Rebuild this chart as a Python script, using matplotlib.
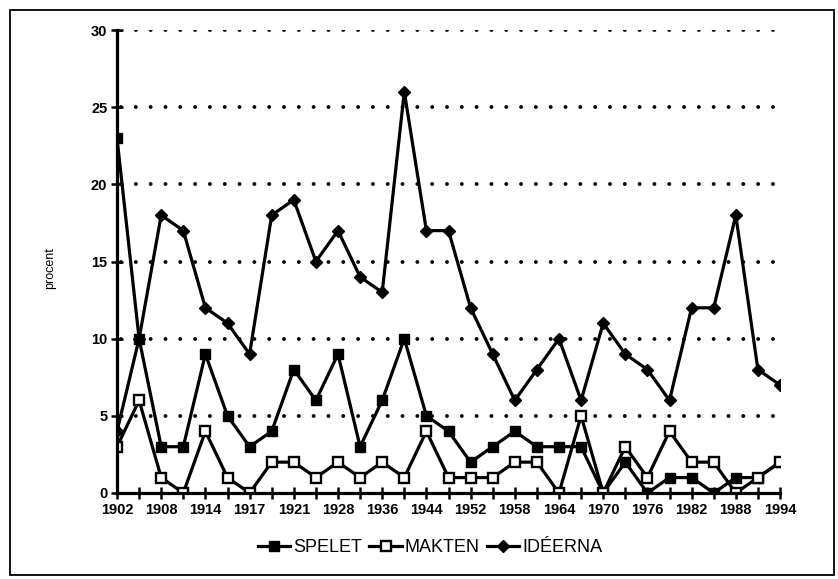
import numpy as np
import matplotlib.pyplot as plt
from matplotlib.patches import Rectangle

# år (varannan etikett visas i originalet)
years = ['1902', '1905', '1908', '1911', '1914', '1916', '1917', '1919', '1921', '1924',
         '1928', '1932', '1936', '1940', '1944', '1948', '1952', '1955', '1958', '1961',
         '1964', '1967', '1970', '1973', '1976', '1979', '1982', '1985', '1988', '1991',
         '1994']

spelet = [23, 10, 3, 3, 9, 5, 3, 4, 8, 6, 9, 3, 6, 10, 5, 4, 2, 3, 4, 3,
          3, 3, 0, 2, 0, 1, 1, 0, 1, 1, 2]
makten = [3, 6, 1, 0, 4, 1, 0, 2, 2, 1, 2, 1, 2, 1, 4, 1, 1, 1, 2, 2,
          0, 5, 0, 3, 1, 4, 2, 2, 0, 1, 2]
ideerna = [4, 10, 18, 17, 12, 11, 9, 18, 19, 15, 17, 14, 13, 26, 17, 17, 12, 9, 6, 8,
           10, 6, 11, 9, 8, 6, 12, 12, 18, 8, 7]

yticks = [0, 5, 10, 15, 20, 25, 30]

fig = plt.figure(figsize=(8.38, 5.79), dpi=100)
ax = fig.add_axes([117 / 838, 1 - 493 / 579, (780 - 117) / 838, (493 - 30) / 579])

x = np.arange(len(years))

# stiplade rutnätslinjer
for yv in yticks[1:]:
    ax.plot([0.2, 29.7], [yv, yv], color='black', linewidth=2.8,
            linestyle=(0, (0.01, 3.8)), dash_capstyle='round', zorder=1)

lw = 2.3
ax.plot(x, spelet, color='black', linewidth=lw, marker='s', markersize=6.5,
        markerfacecolor='black', markeredgecolor='black', label='SPELET', zorder=3)
ax.plot(x, makten, color='black', linewidth=lw, marker='s', markersize=6.5,
        markerfacecolor='white', markeredgecolor='black', markeredgewidth=1.7,
        label='MAKTEN', zorder=4)
ax.plot(x, ideerna, color='black', linewidth=lw, marker='D', markersize=6.5,
        markerfacecolor='black', markeredgecolor='black', label='IDÉERNA', zorder=3)

ax.set_xlim(0, 30)
ax.set_ylim(0, 30)
for side in ['top', 'right']:
    ax.spines[side].set_visible(False)
for side in ['left', 'bottom']:
    ax.spines[side].set_linewidth(2.3)
    ax.spines[side].set_zorder(5)

ax.set_yticks(yticks)
ax.set_yticklabels([str(v) for v in yticks], fontsize=10.5, fontweight='bold',
                   family='Liberation Sans')
ax.set_xticks(x)
ax.set_xticklabels([y if i % 2 == 0 else '' for i, y in enumerate(years)],
                   fontsize=10.5, fontweight='bold', family='Liberation Sans')
ax.tick_params(axis='both', direction='inout', length=8, width=1.8, color='black')
ax.tick_params(axis='x', pad=3)
ax.tick_params(axis='y', pad=3)

fig.text(50 / 838, 1 - 268 / 579, 'procent', rotation=90, ha='center', va='center',
         fontsize=9, family='Liberation Sans')

leg = fig.legend(loc='center', bbox_to_anchor=(430 / 838, 1 - 548 / 579), ncol=3,
                 frameon=False, handlelength=1.8, handletextpad=0.15,
                 columnspacing=0.4, prop={'family': 'Liberation Sans', 'size': 13})

# ram runt hela figuren
fig.patches.append(Rectangle((10 / 838, 1 - 575 / 579), (834 - 10) / 838, (575 - 10) / 579,
                             transform=fig.transFigure, fill=False, edgecolor='black',
                             linewidth=1.3))

fig.savefig('out.png', dpi=100)
